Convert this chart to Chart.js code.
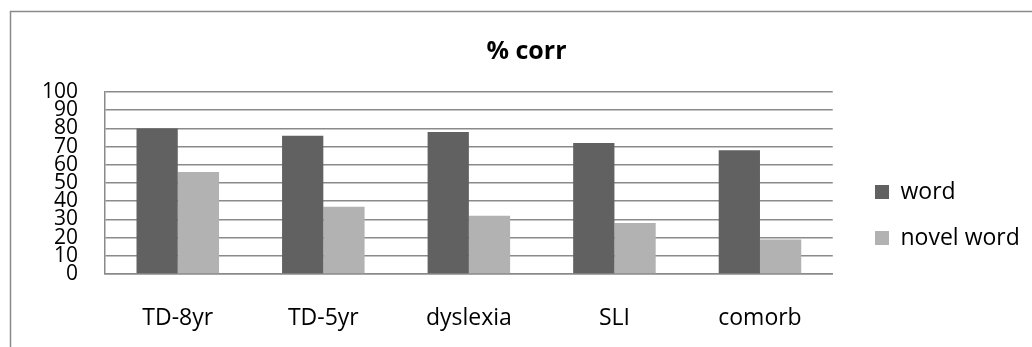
<!DOCTYPE html>
<html>
<head>
<meta charset="utf-8">
<title>% corr</title>
<script src="https://cdn.jsdelivr.net/npm/chart.js@4/dist/chart.umd.min.js"></script>
<style>
  html, body { margin: 0; padding: 0; background: #ffffff; }
  #wrap { position: relative; width: 1032px; height: 347px; }
</style>
</head>
<body>
<div id="wrap"><canvas id="chart"></canvas></div>
<script>
// Groups on the x axis
const categories = ['TD-8yr', 'TD-5yr', 'dyslexia', 'SLI', 'comorb'];
// Percent correct per group
const wordValues = [80, 76, 78, 72, 68];
const novelWordValues = [56, 37, 32, 28, 19];
// Series names
const seriesNames = ['word', 'novel word'];

const FONT = '"Open Sans", "Noto Sans", sans-serif';
const GRID = '#8a8a8a';
const LEGEND_PAD = 23;

Chart.defaults.font.family = FONT;
Chart.defaults.color = '#000000';

// White background plus the thin frame around the whole chart
const framePlugin = {
  id: 'frame',
  beforeDraw(chart) {
    const ctx = chart.ctx;
    ctx.save();
    ctx.fillStyle = '#ffffff';
    ctx.fillRect(0, 0, chart.width, chart.height);
    ctx.strokeStyle = '#8a8a8a';
    ctx.lineWidth = 1.5;
    ctx.strokeRect(10.5, 11.5, chart.width + 40, chart.height + 40);
    ctx.restore();
  }
};

// Place the legend column a little further right than its reserved slot
const legendShift = {
  id: 'legendShift',
  afterLayout(chart) {
    const lg = chart.legend;
    if (!lg) return;
    const w = lg.right - lg.left;
    lg.left = 875 - LEGEND_PAD;
    lg.right = lg.left + w;
    lg.top -= 1.5; lg.bottom -= 1.5;
  }
};

new Chart(document.getElementById('chart'), {
  type: 'bar',
  data: {
    labels: categories,
    datasets: [
      { label: seriesNames[0], data: wordValues, backgroundColor: '#616161' },
      { label: seriesNames[1], data: novelWordValues, backgroundColor: '#b2b2b2' }
    ]
  },
  plugins: [framePlugin, legendShift],
  options: {
    responsive: true,
    maintainAspectRatio: false,
    animation: false,
    devicePixelRatio: 1,
    layout: { padding: { left: 42.5, right: 21.5, top: 0, bottom: 0 } },
    datasets: {
      bar: { barPercentage: 1.0, categoryPercentage: 0.567, borderWidth: 0 }
    },
    plugins: {
      tooltip: { enabled: false },
      title: {
        display: true,
        text: '% corr',
        color: '#000000',
        font: { family: FONT, size: 25, weight: 'bold' },
        padding: { top: 37, bottom: 25 }
      },
      legend: {
        display: true,
        position: 'right',
        align: 'end',
        fullSize: false,
        labels: {
          color: '#000000',
          font: { family: FONT, size: 23 },
          boxWidth: 14,
          boxHeight: 14,
          padding: LEGEND_PAD
        }
      }
    },
    scales: {
      x: {
        grid: { display: false, drawTicks: false },
        border: { display: true, color: GRID, width: 1.5 },
        ticks: { color: '#000000', font: { family: FONT, size: 23 }, padding: 31, maxRotation: 0 },
        afterFit(scale) { scale.height = 73; }
      },
      y: {
        min: 0,
        max: 100,
        grid: { display: true, color: GRID, lineWidth: 1.5, drawTicks: false },
        border: { display: true, color: GRID, width: 1.5 },
        ticks: {
          stepSize: 10,
          autoSkip: false,
          color: '#000000',
          font: { family: FONT, size: 21 },
          padding: 27
        },
        afterFit(scale) { scale.width = 62.5; }
      }
    }
  }
});
</script>
</body>
</html>
